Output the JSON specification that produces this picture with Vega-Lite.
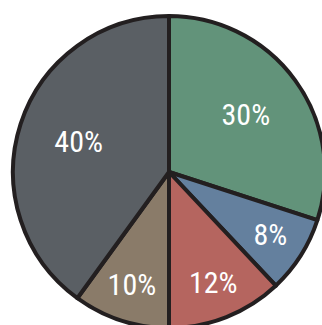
{
  "$schema": "https://vega.github.io/schema/vega-lite/v6.json",
  "width": 306,
  "height": 306,
  "autosize": "none",
  "padding": {"left": 16, "top": 19, "right": 0, "bottom": 0},
  "background": "white",
  "view": {"stroke": null},
  "data": {
    "values": [
      {"segment": "A", "idx": 1, "value": 30, "label": "30%"},
      {"segment": "B", "idx": 2, "value": 8, "label": "8%"},
      {"segment": "C", "idx": 3, "value": 12, "label": "12%"},
      {"segment": "D", "idx": 4, "value": 10, "label": "10%"},
      {"segment": "E", "idx": 5, "value": 40, "label": "40%"}
    ]
  },
  "encoding": {
    "theta": {"field": "value", "type": "quantitative", "stack": true},
    "order": {"field": "idx", "type": "quantitative"}
  },
  "layer": [
    {
      "mark": {"type": "arc", "radius": 156, "stroke": "#231f20", "strokeWidth": 4, "strokeJoin": "round"},
      "encoding": {
        "color": {
          "field": "segment",
          "type": "nominal",
          "scale": {"domain": ["A", "B", "C", "D", "E"], "range": ["#62937a", "#64809e", "#b5655f", "#8a7b69", "#5a5f64"]},
          "legend": null
        }
      }
    },
    {
      "mark": {"type": "text", "radius": {"expr": "datum.value < 20 ? 120 : 95"}, "fill": "white", "font": "Roboto Condensed, DejaVu Sans Condensed, sans-serif", "fontSize": 30, "align": "center", "baseline": "middle"},
      "encoding": {
        "text": {"field": "label", "type": "nominal"}
      }
    }
  ]
}
